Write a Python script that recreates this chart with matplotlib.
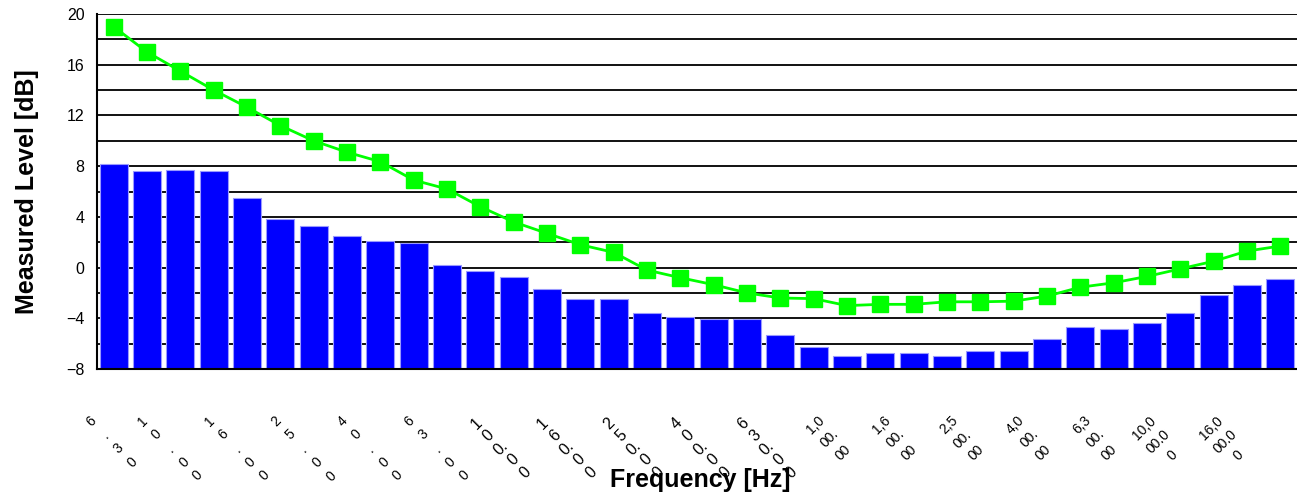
import numpy as np
import matplotlib
matplotlib.use("Agg")
import matplotlib.pyplot as plt
import matplotlib.transforms as mtransforms

plt.rcParams['font.family'] = ['Liberation Sans', 'DejaVu Sans']

# 1/3 octave bands, 6.3 Hz .. 20 kHz
freqs = [6.3, 8, 10, 12.5, 16, 20, 25, 31.5, 40, 50, 63, 80, 100, 125, 160, 200,
         250, 315, 400, 500, 630, 800, 1000, 1250, 1600, 2000, 2500, 3150, 4000,
         5000, 6300, 8000, 10000, 12500, 16000, 20000]

# measured level (bars)
level_bars = [8.2, 7.6, 7.7, 7.6, 5.5, 3.8, 3.3, 2.5, 2.1, 1.9, 0.2, -0.3,
              -0.75, -1.7, -2.5, -2.5, -3.6, -3.9, -4.05, -4.05, -5.3, -6.3, -7.0, -6.7,
              -6.7, -7.0, -6.6, -6.6, -5.6, -4.7, -4.85, -4.4, -3.6, -2.2, -1.4, -0.9]

# reference curve (green line)
level_line = [19.0, 17.0, 15.5, 14.0, 12.65, 11.2, 10.0, 9.1, 8.35, 6.9, 6.2, 4.8,
              3.6, 2.7, 1.8, 1.2, -0.2, -0.8, -1.35, -2.0, -2.4, -2.45, -3.0, -2.9,
              -2.9, -2.7, -2.7, -2.65, -2.25, -1.55, -1.2, -0.7, -0.1, 0.5, 1.3, 1.7]

# x labels as they wrap in the original (every second band)
tick_labels = ["6\n.\n3\n0", "1\n0\n.\n0\n0", "1\n6\n.\n0\n0", "2\n5\n.\n0\n0",
               "4\n0\n.\n0\n0", "6\n3\n.\n0\n0", "1\n0\n0.\n0\n0", "1\n6\n0.\n0\n0",
               "2\n5\n0.\n0\n0", "4\n0\n0.\n0\n0", "6\n3\n0.\n0\n0", "1,0\n00.\n00",
               "1,6\n00.\n00", "2,5\n00.\n00", "4,0\n00.\n00", "6,3\n00.\n00",
               "10,0\n00.0\n0", "16,0\n00.0\n0"]
y_min, y_max = -8, 20

x = np.arange(len(freqs))
bars = np.array(level_bars)

fig = plt.figure(figsize=(12.97, 4.97), dpi=100)
ax = fig.add_axes([97/1297, 1 - 369/497, 1 - 97/1297, 355/497])

ax.bar(x, bars - y_min, bottom=y_min, width=0.84, color="#0000ff",
       edgecolor="#9a9aff", linewidth=0.8, zorder=2)
ax.plot(x, level_line, color="#00ff00", lw=2, marker="s", ms=11,
        mec="#00ff00", zorder=3)

ax.set_xlim(-0.5, len(freqs) - 0.5)
ax.set_ylim(y_min, y_max)
ax.set_yticks(np.arange(y_min, y_max + 1, 4))
ax.set_yticks(np.arange(y_min, y_max + 1, 2), minor=True)
ax.tick_params(axis="y", which="both", length=0, pad=9, labelsize=11.5)
ax.set_xticks([])
ax.grid(axis="y", which="both", color="#111111", lw=1.4)
ax.set_axisbelow(True)
for s in ["top", "right"]:
    ax.spines[s].set_visible(False)
ax.spines["left"].set_linewidth(1.5)
ax.spines["bottom"].set_linewidth(1.5)

# rotated, wrapped category labels
blend = mtransforms.blended_transform_factory(ax.transData, ax.transAxes)
shift = {4: -2, 5: -10, 3: -18}
for k, lab in enumerate(tick_labels):
    big = 6 <= k <= 10
    nl = lab.count("\n") + 1
    dx = -13 if big else shift[nl]
    if k >= 16:
        dx = -22
    off = mtransforms.ScaledTranslation(dx/100, 0, fig.dpi_scale_trans)
    ax.text(x[2 * k], -0.125, lab, transform=blend + off, rotation=45,
            ha="center", va="top", fontsize=11.5 if big else 10,
            linespacing=1.19 if big else 1.49, clip_on=False)

fig.text(27/1297, 1 - 191.5/497, "Measured Level [dB]", rotation=90,
         ha="center", va="center", fontsize=18, fontweight="bold")
fig.text(700/1297, 1 - 480/497, "Frequency [Hz]", ha="center", va="center",
         fontsize=18, fontweight="bold")

fig.savefig("out.png", dpi=100)
